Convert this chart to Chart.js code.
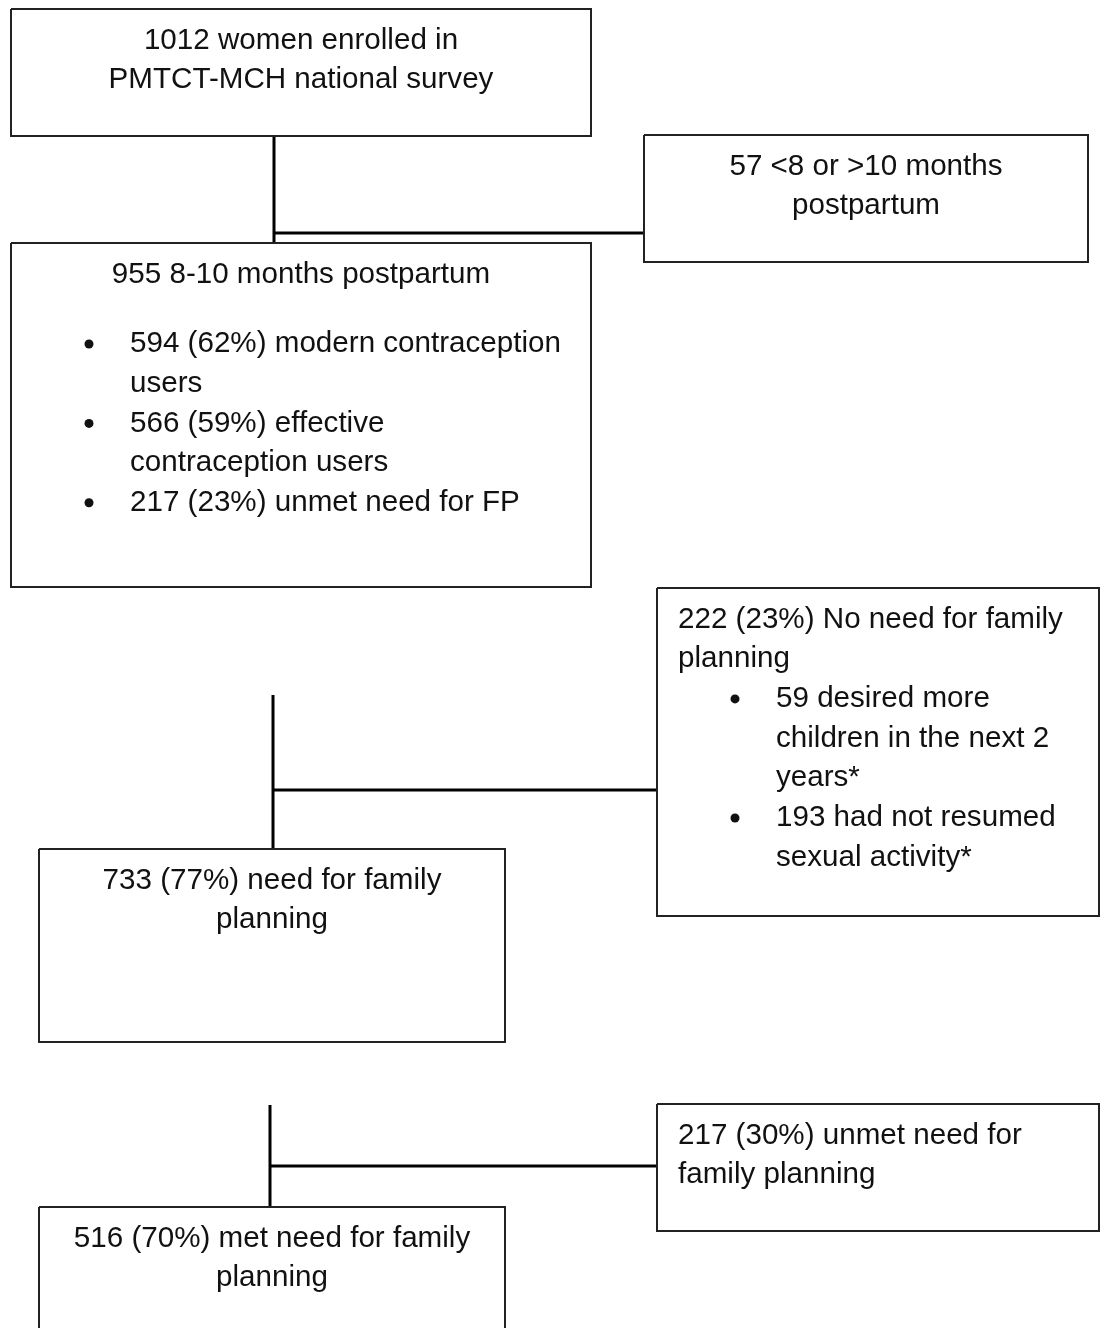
<!DOCTYPE html>
<html>
<head>
<meta charset="utf-8">
<script src="https://cdn.jsdelivr.net/npm/chart.js@4/dist/chart.umd.min.js"></script>
<style>
  html, body { margin: 0; padding: 0; background: #fff; }
  canvas { display: block; }
</style>
</head>
<body>
<canvas id="flow" width="1100" height="1328"></canvas>
<script>
// Flow diagram: boxes + connectors drawn on a hidden linear x/y grid (page pixels)

// box text, one entry per line: [text, row, bullet]
const box1Lines = [['1012 women enrolled in', 0], ['PMTCT-MCH national survey', 1]];
const box2Lines = [['57 <8 or >10 months', 0], ['postpartum', 1]];
const box3Lines = [
  ['955 8-10 months postpartum', 0],
  ['594 (62%) modern contraception', 1.75, true],
  ['users', 2.75],
  ['566 (59%) effective', 3.75, true],
  ['contraception users', 4.75],
  ['217 (23%) unmet need for FP', 5.75, true]
];
const box4Lines = [
  ['222 (23%) No need for family', 0],
  ['planning', 1],
  ['59 desired more', 2, true],
  ['children in the next 2', 3],
  ['years*', 4],
  ['193 had not resumed', 5, true],
  ['sexual activity*', 6]
];
const box5Lines = [['733 (77%) need for family', 0], ['planning', 1]];
const box6Lines = [['217 (30%) unmet need for', 0], ['family planning', 1]];
const box7Lines = [['516 (70%) met need for family', 0], ['planning', 1]];

// layout (x0, y0, x1, y1) in page units
const boxRects = [
  [11, 9, 591, 136],
  [644, 135, 1088, 262],
  [11, 243, 591, 587],
  [657, 588, 1099, 916],
  [39, 849, 505, 1042],
  [657, 1104, 1099, 1231],
  [39, 1207, 505, 1345]
];
const boxAlign = ['center', 'center', 'center-bullets', 'left', 'center', 'left', 'center'];
const boxLines = [box1Lines, box2Lines, box3Lines, box4Lines, box5Lines, box6Lines, box7Lines];

// connectors [x0, y0, x1, y1]
const connectors = [
  [274, 136, 274, 243],
  [274, 233, 644, 233],
  [273, 695, 273, 849],
  [273, 790, 657, 790],
  [270, 1105, 270, 1207],
  [270, 1166, 657, 1166]
];

const FONT = '29.6px "Liberation Sans", Arial, sans-serif';
const LINE_H = 39.7;

const datasets = [];
boxRects.forEach(r => {
  datasets.push({
    data: [{x: r[0], y: r[1]}, {x: r[2], y: r[1]}, {x: r[2], y: r[3]}, {x: r[0], y: r[3]}, {x: r[0], y: r[1]}],
    showLine: true, borderColor: '#222', borderWidth: 2, pointRadius: 0, fill: false, tension: 0
  });
});
connectors.forEach(c => {
  datasets.push({
    data: [{x: c[0], y: c[1]}, {x: c[2], y: c[3]}],
    showLine: true, borderColor: '#000', borderWidth: 3, pointRadius: 0, fill: false
  });
});

const boxTextPlugin = {
  id: 'boxText',
  afterDatasetsDraw(chart) {
    const ctx = chart.ctx;
    const xs = chart.scales.x, ys = chart.scales.y;
    ctx.save();
    ctx.font = FONT;
    ctx.fillStyle = '#111';
    ctx.textBaseline = 'middle';
    boxRects.forEach((r, i) => {
      const left = xs.getPixelForValue(r[0]);
      const right = xs.getPixelForValue(r[2]);
      const top = ys.getPixelForValue(r[1]);
      const align = boxAlign[i];
      boxLines[i].forEach(([t, row, bullet]) => {
        const y = top + 31.5 + row * LINE_H;
        if (align === 'center' || (align === 'center-bullets' && row === 0)) {
          ctx.textAlign = 'center';
          ctx.fillText(t, (left + right) / 2, y);
          return;
        }
        ctx.textAlign = 'left';
        let bx, tx;
        if (align === 'center-bullets') { bx = left + 78; tx = left + 119; }
        else if (row < 2) { tx = left + 21; }
        else { bx = left + 78; tx = left + 119; }
        if (bullet) {
          ctx.beginPath();
          ctx.arc(bx, y, 4.5, 0, Math.PI * 2);
          ctx.fill();
        }
        ctx.fillText(t, tx, y);
      });
    });
    ctx.restore();
  }
};

new Chart(document.getElementById('flow'), {
  type: 'scatter',
  data: { datasets },
  options: {
    responsive: false,
    animation: false,
    layout: { padding: 0 },
    plugins: { legend: { display: false }, tooltip: { enabled: false } },
    scales: {
      x: { type: 'linear', min: 0, max: 1100, display: false },
      y: { type: 'linear', min: 0, max: 1328, reverse: true, display: false }
    }
  },
  plugins: [boxTextPlugin]
});
</script>
</body>
</html>
